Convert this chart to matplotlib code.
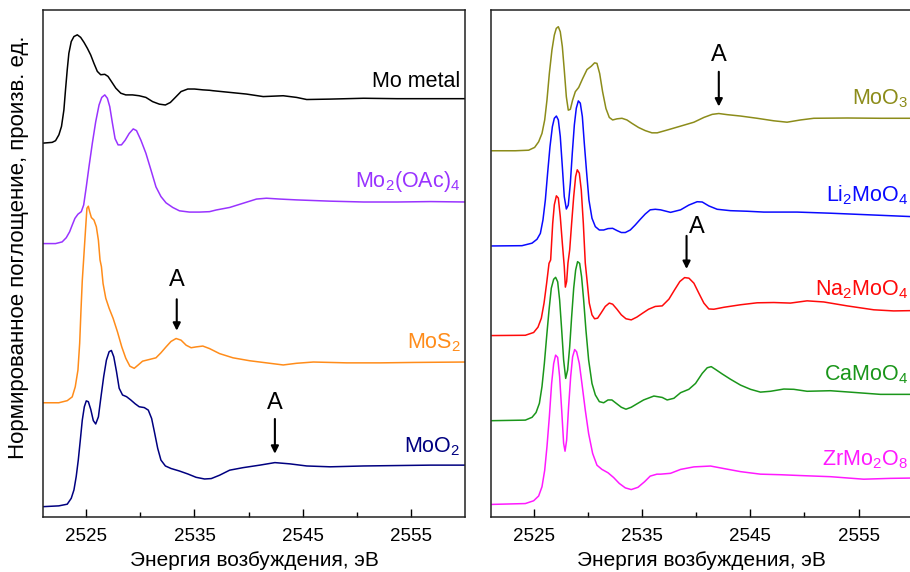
import numpy as np
import matplotlib
matplotlib.use("Agg")
import matplotlib.pyplot as plt

plt.rcParams['font.family'] = ['Liberation Sans', 'DejaVu Sans']
plt.rcParams['mathtext.fontset'] = 'custom'
plt.rcParams['mathtext.rm'] = 'Liberation Sans'
plt.rcParams['mathtext.it'] = 'Liberation Sans:italic'
plt.rcParams['mathtext.default'] = 'regular'

# ---- left panel spectra (energy, eV / normalized absorption) ----
mo_metal_e = [2520.92, 2521.85, 2522.16, 2522.47, 2522.71, 2522.93, 2523.08, 2523.24, 2523.39, 2523.61,
              2523.86, 2524.17, 2524.48, 2524.79, 2525.10, 2525.41, 2525.71, 2526.02, 2526.33, 2526.71,
              2527.01, 2527.32, 2527.73, 2528.19, 2528.65, 2529.27, 2529.89, 2530.51, 2531.13, 2531.75,
              2532.31, 2532.77, 2533.23, 2533.76, 2534.38, 2535.00, 2535.77, 2536.39, 2536.70, 2538.25,
              2539.80, 2541.35, 2543.20, 2544.44, 2545.37, 2547.54, 2550.63, 2553.73, 2556.82, 2560.07]
mo_metal_v = [0.00, 0.02, 0.06, 0.20, 0.40, 0.79, 1.27, 1.75, 2.14, 2.42,
              2.54, 2.58, 2.52, 2.40, 2.26, 2.10, 1.90, 1.71, 1.63, 1.64,
              1.59, 1.47, 1.31, 1.19, 1.15, 1.15, 1.13, 1.09, 0.99, 0.93,
              0.91, 0.97, 1.09, 1.23, 1.29, 1.29, 1.27, 1.26, 1.25, 1.21,
              1.17, 1.11, 1.13, 1.09, 1.04, 1.05, 1.07, 1.06, 1.06, 1.06]

mo2oac4_e = [2520.92, 2522.16, 2522.77, 2523.15, 2523.46, 2523.70, 2523.95, 2524.23, 2524.54, 2524.76,
             2525.00, 2525.25, 2525.56, 2525.87, 2526.18, 2526.43, 2526.71, 2526.95, 2527.17, 2527.42,
             2527.66, 2527.94, 2528.25, 2528.59, 2528.96, 2529.34, 2529.64, 2530.05, 2530.51, 2530.98,
             2531.44, 2531.90, 2532.37, 2532.99, 2533.61, 2534.54, 2535.46, 2536.39, 2537.01, 2538.25,
             2539.49, 2540.73, 2541.65, 2542.89, 2544.44, 2547.54, 2550.63, 2553.73, 2556.82, 2560.07]
mo2oac4_v = [0.00, 0.00, 0.04, 0.14, 0.28, 0.44, 0.60, 0.70, 0.76, 0.92,
             1.35, 1.83, 2.39, 2.90, 3.30, 3.48, 3.54, 3.46, 3.26, 2.86,
             2.50, 2.35, 2.35, 2.46, 2.62, 2.73, 2.69, 2.46, 2.15, 1.75,
             1.35, 1.12, 0.97, 0.86, 0.78, 0.75, 0.75, 0.76, 0.80, 0.86,
             0.96, 1.06, 1.08, 1.06, 1.04, 1.01, 0.99, 0.99, 1.00, 0.99]

mos2_e = [2520.92, 2522.46, 2523.24, 2523.70, 2523.98, 2524.23, 2524.39, 2524.51, 2524.63, 2524.74,
          2524.85, 2524.97, 2525.06, 2525.19, 2525.31, 2525.47, 2525.71, 2525.93, 2526.12, 2526.27,
          2526.40, 2526.55, 2526.80, 2527.11, 2527.48, 2527.88, 2528.28, 2528.65, 2529.03, 2529.43,
          2529.80, 2530.20, 2530.82, 2531.44, 2531.90, 2532.37, 2532.83, 2533.30, 2533.76, 2534.23,
          2534.69, 2535.15, 2535.77, 2536.39, 2537.32, 2538.56, 2540.11, 2541.96, 2543.20, 2544.44,
          2545.99, 2549.08, 2552.18, 2555.27, 2560.07]
mos2_v = [0.00, 0.00, 0.05, 0.14, 0.38, 0.78, 1.42, 2.20, 2.91, 3.35,
          3.80, 4.28, 4.63, 4.68, 4.55, 4.41, 4.35, 4.19, 3.87, 3.40,
          3.24, 2.84, 2.49, 2.25, 2.01, 1.69, 1.33, 1.06, 0.87, 0.82,
          0.90, 0.99, 1.03, 1.07, 1.19, 1.33, 1.46, 1.53, 1.49, 1.37,
          1.31, 1.33, 1.35, 1.29, 1.17, 1.07, 1.00, 0.94, 0.90, 0.94,
          0.97, 0.95, 0.95, 0.96, 0.97]

moo2_e = [2520.92, 2522.46, 2523.24, 2523.61, 2523.86, 2524.07, 2524.26, 2524.45, 2524.63, 2524.82,
          2525.00, 2525.19, 2525.41, 2525.65, 2525.87, 2526.12, 2526.36, 2526.61, 2526.86, 2527.11,
          2527.32, 2527.54, 2527.79, 2528.04, 2528.35, 2528.72, 2529.12, 2529.52, 2529.89, 2530.36,
          2530.73, 2531.04, 2531.29, 2531.60, 2531.90, 2532.31, 2532.83, 2533.61, 2534.38, 2535.15,
          2535.93, 2536.55, 2537.32, 2538.25, 2539.49, 2541.04, 2542.43, 2543.82, 2545.37, 2547.54,
          2550.63, 2553.73, 2556.82, 2560.07]
moo2_v = [0.00, 0.02, 0.06, 0.20, 0.40, 0.72, 1.11, 1.59, 2.06, 2.38,
          2.52, 2.50, 2.32, 2.05, 1.97, 2.14, 2.62, 3.10, 3.49, 3.69,
          3.72, 3.57, 3.22, 2.82, 2.66, 2.62, 2.54, 2.45, 2.38, 2.36,
          2.30, 2.10, 1.79, 1.39, 1.11, 0.97, 0.91, 0.85, 0.78, 0.70,
          0.66, 0.67, 0.75, 0.87, 0.93, 0.99, 1.05, 1.02, 0.97, 0.95,
          0.97, 0.98, 0.99, 0.99]

# ---- right panel spectra ----
moo3_e = [2521.12, 2523.28, 2524.51, 2525.06, 2525.43, 2525.74, 2525.99, 2526.20, 2526.42, 2526.66,
          2526.88, 2527.06, 2527.25, 2527.43, 2527.62, 2527.80, 2527.99, 2528.17, 2528.36, 2528.57,
          2528.82, 2529.13, 2529.50, 2529.90, 2530.30, 2530.60, 2530.82, 2531.07, 2531.34, 2531.65,
          2531.96, 2532.27, 2532.67, 2533.13, 2533.59, 2534.05, 2534.67, 2535.28, 2535.90, 2536.39,
          2537.31, 2538.55, 2539.78, 2540.70, 2541.47, 2542.08, 2542.85, 2544.09, 2545.62, 2547.16,
          2548.39, 2549.63, 2550.86, 2553.94, 2557.01, 2559.78]
moo3_v = [0.00, 0.00, 0.02, 0.12, 0.32, 0.62, 1.10, 1.81, 2.76, 3.60,
          4.13, 4.37, 4.43, 4.25, 3.72, 2.88, 1.93, 1.45, 1.48, 1.81,
          2.11, 2.26, 2.58, 2.90, 3.02, 3.14, 3.12, 2.76, 2.11, 1.51,
          1.19, 1.10, 1.14, 1.16, 1.10, 0.98, 0.83, 0.72, 0.64, 0.64,
          0.74, 0.88, 1.02, 1.19, 1.30, 1.33, 1.29, 1.24, 1.16, 1.07,
          1.02, 1.10, 1.16, 1.17, 1.16, 1.16]

li2moo4_e = [2521.12, 2523.89, 2524.82, 2525.28, 2525.59, 2525.83, 2526.05, 2526.26, 2526.48, 2526.70,
             2526.88, 2527.07, 2527.25, 2527.43, 2527.62, 2527.80, 2527.99, 2528.17, 2528.36, 2528.54,
             2528.73, 2528.91, 2529.10, 2529.28, 2529.47, 2529.65, 2529.87, 2530.08, 2530.36, 2530.67,
             2531.04, 2531.44, 2531.84, 2532.27, 2532.67, 2533.07, 2533.44, 2533.90, 2534.36, 2534.82,
             2535.28, 2535.74, 2536.21, 2536.70, 2537.62, 2538.55, 2539.31, 2540.08, 2540.55, 2541.16,
             2541.93, 2543.16, 2544.70, 2546.24, 2549.32, 2552.39, 2555.47, 2559.78]
li2moo4_v = [0.00, 0.01, 0.10, 0.24, 0.45, 0.93, 1.64, 2.60, 3.55, 4.26,
             4.56, 4.64, 4.50, 3.91, 2.83, 1.76, 1.32, 1.46, 2.24, 3.31,
             4.32, 4.92, 5.18, 5.10, 4.62, 3.67, 2.60, 1.64, 0.99, 0.69,
             0.57, 0.57, 0.62, 0.63, 0.55, 0.48, 0.48, 0.57, 0.75, 0.95,
             1.14, 1.29, 1.31, 1.29, 1.20, 1.29, 1.46, 1.58, 1.57, 1.43,
             1.31, 1.26, 1.24, 1.21, 1.21, 1.17, 1.12, 1.05]

na2moo4_e = [2521.12, 2524.20, 2524.97, 2525.37, 2525.68, 2525.93, 2526.17, 2526.39, 2526.54, 2526.73,
             2526.88, 2527.07, 2527.25, 2527.43, 2527.62, 2527.80, 2527.90, 2528.02, 2528.14, 2528.30,
             2528.48, 2528.67, 2528.85, 2529.00, 2529.19, 2529.37, 2529.56, 2529.74, 2529.93, 2530.11,
             2530.36, 2530.60, 2530.88, 2531.19, 2531.59, 2531.96, 2532.27, 2532.67, 2533.07, 2533.50,
             2533.99, 2534.51, 2535.04, 2535.59, 2536.21, 2536.85, 2537.47, 2537.99, 2538.48, 2538.92,
             2539.32, 2539.78, 2540.24, 2540.70, 2541.16, 2541.62, 2542.55, 2544.09, 2545.62, 2547.16,
             2548.70, 2550.24, 2551.78, 2553.94, 2556.40, 2558.24, 2559.78]
na2moo4_v = [0.00, 0.01, 0.11, 0.30, 0.62, 1.16, 1.87, 2.58, 2.70, 4.01,
             4.67, 4.99, 4.91, 4.25, 3.30, 2.46, 1.73, 1.93, 2.59, 3.06,
             4.01, 4.96, 5.68, 5.92, 5.80, 5.20, 4.01, 2.59, 1.87, 1.16,
             0.74, 0.60, 0.62, 0.80, 1.04, 1.16, 1.12, 0.94, 0.74, 0.60,
             0.56, 0.66, 0.80, 0.94, 1.04, 1.06, 1.30, 1.63, 1.93, 2.07,
             2.05, 1.87, 1.51, 1.16, 0.95, 0.94, 1.01, 1.10, 1.17, 1.18,
             1.16, 1.24, 1.20, 1.06, 0.92, 0.88, 0.89]

camoo4_e = [2521.12, 2524.20, 2524.82, 2525.19, 2525.50, 2525.74, 2525.96, 2526.17, 2526.39, 2526.60,
            2526.82, 2527.00, 2527.19, 2527.37, 2527.56, 2527.74, 2527.93, 2528.11, 2528.30, 2528.48,
            2528.67, 2528.85, 2529.03, 2529.22, 2529.40, 2529.59, 2529.80, 2530.05, 2530.36, 2530.67,
            2531.04, 2531.44, 2531.84, 2532.20, 2532.60, 2533.07, 2533.50, 2533.99, 2534.51, 2535.13,
            2535.74, 2536.08, 2536.85, 2537.31, 2537.93, 2538.55, 2539.31, 2539.93, 2540.55, 2541.01,
            2541.38, 2541.78, 2542.39, 2543.16, 2544.09, 2545.01, 2545.93, 2546.86, 2548.09, 2549.01,
            2550.24, 2552.39, 2554.55, 2557.01, 2559.78]
camoo4_v = [0.00, 0.02, 0.12, 0.29, 0.62, 1.22, 2.05, 3.00, 3.95, 4.73,
            5.05, 5.12, 4.96, 4.31, 3.24, 2.17, 1.51, 1.81, 2.64, 3.71,
            4.73, 5.38, 5.68, 5.62, 5.14, 4.31, 3.24, 2.17, 1.33, 0.92,
            0.68, 0.64, 0.74, 0.74, 0.62, 0.48, 0.41, 0.48, 0.60, 0.74,
            0.83, 0.88, 0.83, 0.74, 0.80, 1.00, 1.12, 1.33, 1.69, 1.89,
            1.93, 1.83, 1.67, 1.48, 1.27, 1.12, 1.02, 1.05, 1.13, 1.12,
            1.05, 1.07, 1.01, 0.94, 0.94]

zrmo2o8_e = [2521.12, 2524.20, 2524.97, 2525.43, 2525.74, 2525.99, 2526.20, 2526.42, 2526.63, 2526.82,
             2527.00, 2527.19, 2527.37, 2527.56, 2527.74, 2527.87, 2528.02, 2528.20, 2528.39, 2528.57,
             2528.76, 2528.94, 2529.19, 2529.43, 2529.74, 2530.05, 2530.42, 2530.82, 2531.28, 2531.84,
             2532.36, 2532.88, 2533.44, 2533.99, 2534.61, 2535.22, 2535.74, 2536.36, 2536.70, 2537.62,
             2538.55, 2539.78, 2541.32, 2542.55, 2544.09, 2545.93, 2547.78, 2549.63, 2552.39, 2555.47,
             2557.94, 2559.78]
zrmo2o8_v = [0.00, 0.03, 0.13, 0.30, 0.63, 1.22, 2.06, 3.13, 4.32, 5.03,
             5.33, 5.25, 4.56, 3.37, 2.18, 1.90, 2.30, 3.49, 4.56, 5.27,
             5.53, 5.45, 5.03, 4.32, 3.37, 2.53, 1.82, 1.40, 1.25, 1.13,
             0.96, 0.75, 0.59, 0.53, 0.61, 0.81, 1.01, 1.08, 1.08, 1.11,
             1.25, 1.34, 1.37, 1.28, 1.17, 1.08, 1.06, 1.03, 0.99, 0.90,
             0.93, 0.94]

left_names = ['Mo metal', 'Mo$_2$(OAc)$_4$', 'MoS$_2$', 'MoO$_2$']
left_colors = ['black', '#9933ff', '#ff8c1a', '#000080']
left_offsets = [8.90, 6.51, 2.72, 0.245]
left_label_y = [10.23, 7.86, 4.02, 1.53]
left_data = [(mo_metal_e, mo_metal_v), (mo2oac4_e, mo2oac4_v), (mos2_e, mos2_v), (moo2_e, moo2_v)]

right_names = ['MoO$_3$', 'Li$_2$MoO$_4$', 'Na$_2$MoO$_4$', 'CaMoO$_4$', 'ZrMo$_2$O$_8$']
right_colors = ['#8c8c1a', '#0a0aff', '#ff0a0a', '#1a961a', '#ff1aff']
right_offsets = [13.08, 9.68, 6.48, 3.44, 0.45]
right_label_y = [14.75, 11.26, 7.93, 4.89, 1.86]
right_data = [(moo3_e, moo3_v), (li2moo4_e, li2moo4_v), (na2moo4_e, na2moo4_v),
              (camoo4_e, camoo4_v), (zrmo2o8_e, zrmo2o8_v)]

fig = plt.figure(figsize=(9.1, 5.72), dpi=100)
axL = fig.add_axes([43 / 910, 55 / 572, 422 / 910, 507 / 572])
axR = fig.add_axes([490.7 / 910, 55 / 572, 422 / 910, 507 / 572])


def style(ax, ytop):
    ax.set_xlim(2521, 2560)
    ax.set_ylim(0, ytop)
    ax.set_xticks([2525, 2535, 2545, 2555])
    ax.set_xticks([2530, 2540, 2550], minor=True)
    ax.set_yticks([])
    ax.tick_params(axis='x', which='major', direction='in', length=6, width=1, labelsize=13.5, pad=8)
    ax.tick_params(axis='x', which='minor', direction='in', length=3.5, width=1)
    for s in ax.spines.values():
        s.set_linewidth(1.1)
        s.set_color('#222222')
    ax.set_xlabel('Энергия возбуждения, эВ', fontsize=15, labelpad=4)


def arrow(ax, x, y_text, y0, y1, xa=None):
    if xa is None:
        xa = x
    ax.text(x, y_text, 'A', fontsize=17, ha='center', va='center')
    ax.annotate('', xy=(xa, y1), xytext=(xa, y0),
                arrowprops=dict(arrowstyle='-|>', color='black', lw=1.5, mutation_scale=11))


for (e, v), off, c, name, ly in zip(left_data, left_offsets, left_colors, left_names, left_label_y):
    axL.plot(e, np.array(v) + off, color=c, lw=1.1, solid_joinstyle='round')
    axL.text(2559.6, ly, name, color=c, fontsize=15.5, ha='right', va='baseline')
style(axL, 507 / 42)
axL.set_ylabel('Нормированное поглощение, произв. ед.', fontsize=16)
axL.yaxis.set_label_coords(-0.033, 0.532)
arrow(axL, 2533.36, 5.64, 5.25, 4.37)
arrow(axL, 2542.43, 2.71, 2.40, 1.44)

for (e, v), off, c, name, ly in zip(right_data, right_offsets, right_colors, right_names, right_label_y):
    axR.plot(e, np.array(v) + off, color=c, lw=1.1, solid_joinstyle='round')
    axR.text(2559.6, ly, name, color=c, fontsize=15.5, ha='right', va='baseline')
style(axR, 507 / 28)
arrow(axR, 2542.08, 16.5, 16.0, 14.56)
arrow(axR, 2540.09, 10.37, 10.14, 8.76, xa=2539.10)

fig.savefig('out.png', dpi=100)
